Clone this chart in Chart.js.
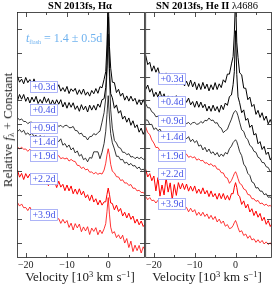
<!DOCTYPE html>
<html>
<head>
<meta charset="utf-8">
<script src="https://cdn.jsdelivr.net/npm/chart.js@4.4.1/dist/chart.umd.min.js"></script>
<style>
  body { margin: 0; background: #fff; }
  #wrap { position: relative; width: 274px; height: 288px; overflow: hidden; font-family: "Liberation Serif", serif; color: #000; }
  canvas { position: absolute; top: 0; }
  .txt { position: absolute; white-space: nowrap; transform: translateX(-50%); }
  .ttl { top: 0px; font-size: 10.5px; line-height: 12px; font-weight: bold; }
  .xlab { top: 270px; font-size: 13px; line-height: 14px; color: #222; }
  sup { font-size: 8.5px; vertical-align: 4px; line-height: 0; }
  sub { font-size: 8.5px; vertical-align: -2px; line-height: 0; }
</style>
</head>
<body>
<div id="wrap">
  <canvas id="ha" width="146" height="288" style="left:0px"></canvas>
  <canvas id="he" width="130" height="288" style="left:144px"></canvas>
  <div class="txt ttl" style="left:80px">SN 2013fs, Hα</div>
  <div class="txt ttl" style="left:207px">SN 2013fs, He II <span style="font-weight:normal">λ4686</span></div>
  <div class="txt xlab" style="left:80px">Velocity [10<sup>3</sup> km s<sup>−1</sup>]</div>
  <div class="txt xlab" style="left:207px">Velocity [10<sup>3</sup> km s<sup>−1</sup>]</div>
  <div style="position:absolute;left:8px;top:130px;transform:translate(-50%,-50%) rotate(-90deg);font-size:13px;color:#222;white-space:nowrap;">Relative <i>f</i><sub>λ</sub> + Constant</div>
  <div style="position:absolute;left:26px;top:31px;font-size:12px;line-height:14px;color:#6fb2ef;white-space:nowrap;"><i>t</i><sub style="font-size:6px">flash</sub> = 1.4 ± 0.5d</div>
</div>
<script>
// velocity grid, 10^3 km/s (finer around the narrow line)
var velocity = [-22, -21.5, -21, -20.5, -20, -19.5, -19, -18.5, -18, -17.5, -17, -16.5, -16, -15.5, -15, -14.5,
  -14, -13.5, -13, -12.5, -12, -11.5, -11, -10.5, -10, -9.5, -9, -8.5, -8, -7.5, -7, -6.5, -6, -5.5, -5, -4.5,
  -4, -3.5, -3, -2.5, -2, -1.5, -1, -0.6, -0.3, 0, 0.3, 0.6, 1, 1.5, 2, 2.5, 3, 3.5, 4, 4.5, 5, 5.5, 6, 6.5,
  7, 7.5, 8, 8.5, 9];

var epochs = ['+0.3d', '+0.4d', '+0.9d', '+1.4d', '+1.9d', '+2.2d', '+3.9d'];

// H-alpha, relative flux + constant
var ha03 = [70.2, 67.7, 69.0, 67.0, 69.7, 67.5, 68.8, 66.4, 69.1, 66.5, 67.5, 65.6, 67.9, 65.6, 67.9, 65.8, 66.8, 64.2, 66.6, 64.8,
  66.6, 63.9, 65.4, 63.7, 65.9, 62.9, 64.9, 63.8, 65.1, 62.5, 64.5, 62.6, 64.8, 62.2, 63.6, 61.8, 64.2, 62.8, 65.0, 63.0,
  65.8, 65.3, 68.9, 72.1, 83.4, 104, 82.7, 73.6, 67.7, 67.5, 63.3, 64.7, 61.8, 63.1, 60.1, 61.9, 59.7, 61.8, 59.7, 60.9,
  58.3, 60.3, 58.1, 60.3, 58.1];
var ha04 = [59.9, 62.5, 60.5, 62.5, 59.6, 61.4, 58.9, 61.4, 59.4, 61.7, 58.7, 60.4, 58.8, 61.5, 59.1, 60.8, 58.0, 60.2, 58.2, 60.3,
  58.4, 60.3, 57.2, 59.2, 56.7, 59.1, 57.1, 59.0, 56.2, 57.7, 55.4, 58.2, 56.0, 57.6, 55.1, 58.0, 55.9, 57.9, 55.9, 58.5,
  57.1, 60.3, 60.7, 65.5, 74.6, 104, 73.5, 62.9, 61.1, 56.7, 58.1, 54.6, 55.7, 52.1, 53.4, 50.8, 52.6, 49.5, 51.4, 48.5,
  49.7, 46.6, 48.3, 45.7, 47.7];
var ha09 = [52.7, 51.7, 52.2, 51.1, 51.1, 50.2, 50.8, 50.8, 49.7, 49.9, 50.5, 49.2, 50.0, 49.4, 50.2, 49.7, 49.1, 49.9, 49.3, 50.0,
  49.0, 49.5, 48.6, 49.4, 49.5, 48.5, 48.5, 49.0, 47.3, 47.2, 45.8, 46.2, 44.8, 44.7, 43.3, 44.7, 44.8, 46.0, 45.4, 46.4,
  47.0, 50.8, 54.8, 61, 72, 88, 70, 56, 48.3, 43.1, 42.0, 40.2, 39.8, 38.1, 38.1, 37.1, 37.5, 36.1, 36.3, 35.4,
  36.1, 35.4, 36.0, 35.1, 35.5];
var ha14 = [46.8, 47.7, 46.6, 47.4, 45.6, 46.3, 45.3, 46.2, 44.7, 45.3, 44.1, 45.2, 44.2, 44.9, 43.4, 44.3, 43.5, 44.4, 42.8, 43.5,
  42.6, 43.8, 41.1, 41.8, 40.2, 41.2, 39.1, 40.0, 37.8, 38.7, 36.5, 37.2, 35.0, 35.6, 34.1, 35.9, 35.6, 38.3, 38.3, 38.3,
  35.4, 38.1, 41.8, 47, 54, 62, 53, 46, 42.1, 39.5, 36.4, 36.4, 34.9, 35.1, 33.5, 33.9, 32.7, 33.4, 32.3, 32.5,
  31.2, 31.9, 30.6, 31.0, 29.9];
var ha19 = [40.4, 39.5, 40.2, 39.4, 39.5, 38.5, 39.4, 38.2, 38.3, 37.6, 38.3, 37.4, 37.7, 36.6, 37.4, 36.7, 37.2, 36.1, 36.6, 35.9,
  36.7, 35.4, 35.8, 35.3, 35.7, 34.4, 35.1, 34.4, 34.2, 32.6, 32.5, 31.3, 31.8, 30.7, 31.0, 29.7, 29.8, 29.0, 29.6, 28.8,
  29.3, 28.9, 30.6, 33.5, 37, 39.6, 37, 33, 30.1, 29.4, 27.8, 27.7, 26.2, 26.5, 25.1, 25.2, 24.1, 24.5, 22.9, 23.0,
  21.8, 22.1, 21.1, 21.2, 20.1];
var ha22 = [30.6, 27.6, 29.2, 26.6, 29.1, 27.3, 28.9, 26.0, 27.8, 25.2, 27.8, 25.4, 27.8, 24.8, 26.1, 24.0, 26.6, 24.3, 25.8, 23.2,
  25.9, 23.4, 24.6, 21.9, 24.3, 21.8, 23.9, 20.6, 22.6, 20.4, 22.7, 20.1, 21.7, 18.9, 20.2, 17.7, 20.1, 17.1, 18.5, 15.9,
  17.9, 15.8, 17.2, 17.2, 20.3, 23, 20.4, 16.7, 16.5, 13.8, 15.8, 13.1, 14.4, 11.2, 12.8, 10.4, 12.4, 9.8, 11.2, 8.2,
  9.9, 7.5, 9.1, 6.8, 7.9];
var ha39 = [16.9, 15.4, 16.3, 14.7, 14.8, 13.5, 15.0, 13.2, 13.6, 12.0, 13.2, 12.1, 12.4, 11.0, 12.3, 10.6, 11.0, 9.5, 10.9, 9.6,
  10.1, 8.1, 9.8, 8.2, 9.3, 6.4, 8.2, 5.3, 8.0, 6.2, 7.8, 4.6, 6.6, 4.9, 6.7, 3.4, 6.1, 4.7, 6.3, 3.3,
  5.3, 3.8, 5.8, 8, 13, 19, 12, 6.5, 3.9, 4.6, 2.1, 3.3, 1.5, 3.1, -0.2, 1.7, -2.1, 0.6, -3.8, -1.1,
  -3.4, -1.2, -4.4, -1.8, -3.3];

// He II 4686, relative flux + constant
var he03 = [79.0, 75.1, 76.1, 72.3, 74.6, 71.9, 73.8, 70.2, 71.4, 68.8, 71.6, 68.7, 71.3, 68.5, 69.9, 66.7, 69.7, 67.1, 69.5, 66.1,
  68.1, 65.9, 68.6, 65.7, 67.8, 64.5, 67.1, 64.6, 67.6, 64.9, 66.9, 64.0, 66.6, 64.5, 67.5, 64.6, 67.0, 65.4, 68.7, 67.6,
  71.1, 71.1, 75.4, 78.5, 88.0, 104, 84.6, 78.2, 71.6, 70.8, 65.2, 65.1, 60.3, 61.4, 57.4, 58.3, 54.1, 55.8, 52.8, 54.8,
  51.6, 53.4, 50.1, 51.9, 49.6];
var he04 = [64.6, 66.5, 63.5, 65.0, 61.6, 63.5, 61.4, 63.9, 61.0, 62.8, 59.9, 61.9, 59.2, 61.7, 60.0, 62.0, 59.0, 61.1, 58.6, 61.1,
  59.2, 61.0, 58.1, 59.5, 57.1, 59.7, 57.1, 59.3, 56.9, 58.4, 55.5, 57.6, 55.4, 58.0, 55.6, 57.4, 55.0, 58.0, 56.1, 58.9,
  57.9, 61.6, 62.3, 66.6, 72.1, 89.4, 71.0, 61.5, 59.0, 54.8, 56.0, 51.6, 52.4, 48.6, 49.6, 45.4, 46.0, 41.7, 42.6, 39.3,
  40.6, 37.2, 38.2, 34.9, 36.4];
var he09 = [58.6, 56.9, 56.9, 55.2, 54.6, 53.1, 53.3, 53.0, 51.7, 51.7, 52.1, 50.7, 51.3, 50.7, 51.4, 50.9, 50.2, 51.1, 50.4, 51.2,
  50.2, 50.7, 49.8, 50.6, 50.7, 49.9, 50.1, 51.1, 50.4, 51.6, 51.4, 52.6, 51.5, 51.7, 50.4, 50.6, 48.9, 48.3, 46.4, 47.2,
  47.8, 50.1, 52.1, 54.2, 55.2, 55.7, 55.0, 53.5, 50.8, 47.6, 46.9, 44.4, 43.4, 41.0, 40.3, 38.5, 38.1, 36.0, 35.5, 33.8,
  33.7, 32.0, 31.7, 30.0, 29.7];
var he14 = [51.8, 51.6, 49.8, 49.9, 47.7, 48.4, 47.2, 47.9, 46.2, 46.6, 45.3, 46.3, 45.2, 45.9, 44.4, 45.3, 44.5, 45.5, 43.9, 44.7,
  43.8, 44.7, 42.6, 43.6, 42.2, 43.0, 40.7, 41.2, 39.1, 40.2, 38.3, 39.5, 37.6, 38.3, 36.9, 38.0, 36.2, 37.4, 36.4, 38.0,
  37.4, 39.6, 40.7, 42.2, 42.8, 43.4, 42.6, 40.9, 38.4, 36.7, 33.1, 31.9, 29.2, 28.3, 25.6, 25.1, 23.0, 23.2, 21.7, 21.7,
  20.2, 20.6, 19.1, 19.3, 18.1];
var he19 = [48.8, 46.4, 45.6, 43.3, 42.0, 40.1, 40.2, 38.7, 38.6, 37.7, 38.3, 37.4, 37.7, 36.7, 37.6, 37.0, 37.5, 36.5, 37.0, 36.5,
  37.3, 36.0, 36.4, 35.8, 36.2, 34.8, 35.3, 34.5, 34.7, 33.5, 33.7, 32.7, 33.3, 32.2, 32.5, 31.0, 30.9, 29.5, 29.4, 27.6,
  27.2, 25.0, 26.2, 27.8, 29.1, 29.9, 28.7, 27.0, 25.0, 24.4, 22.6, 22.2, 20.3, 20.1, 18.5, 18.5, 17.4, 17.8, 16.4, 16.7,
  15.7, 16.2, 15.4, 15.7, 14.7];
var he22 = [30.9, 27.7, 29.1, 26.1, 28.1, 21.8, 27.4, 19.6, 24.3, 20.1, 27.4, 21.3, 25.2, 18.1, 24.5, 19.9, 25.3, 22.6, 25.0, 22.4,
  24.7, 21.7, 23.8, 21.7, 23.9, 20.8, 22.6, 20.6, 23.1, 20.5, 22.0, 19.4, 21.8, 19.3, 20.7, 18.3, 20.8, 18.5, 20.7, 18.1,
  19.9, 17.9, 20.7, 20.6, 23.4, 25.3, 23.3, 20.1, 19.5, 16.1, 17.6, 14.6, 16.2, 12.9, 14.3, 11.4, 13.3, 10.7, 12.3, 9.2,
  10.7, 7.7, 9.3, 6.8, 8.3];
var he39 = [19.4, 18.1, 19.0, 17.7, 17.9, 16.7, 17.8, 16.3, 16.7, 15.6, 16.5, 15.7, 16.1, 14.7, 15.9, 14.9, 15.2, 13.9, 15.3, 14.1,
  14.8, 13.0, 14.5, 12.9, 13.9, 11.5, 12.8, 11.3, 12.8, 11.0, 12.1, 10.1, 11.5, 9.7, 11.0, 8.7, 9.9, 8.1, 9.1, 6.9,
  7.6, 5.9, 6.2, 7.2, 8.4, 9.3, 8.0, 6.3, 4.5, 5.0, 3.0, 3.6, 1.8, 2.9, 1.1, 1.6, 0.1, 1.2, -0.1, 0.9,
  -0.6, 0.3, -0.8, -0.1, -1.4];

// where each epoch tag sits (flux level), one list per panel
var haTagLevels = [65.6, 56.1, 48.5, 42.6, 36.7, 26.8, 11.8];
var heTagLevels = [69.0, 59.3, 51.5, 44.5, 36.5, 28.9, 16.2];
var tagVelocity = -15.6;

var serif = '"Liberation Serif", serif';

// box, inward ticks and epoch tags
var framePlugin = {
  id: 'frame',
  afterDatasetsDraw: function(chart, args, opts) {
    var ctx = chart.ctx, a = chart.chartArea, xs = chart.scales.x, ys = chart.scales.y;
    ctx.save();
    ctx.strokeStyle = '#222';
    ctx.lineWidth = 0.8;
    ctx.strokeRect(a.left, a.top, a.right - a.left, a.bottom - a.top);
    ctx.beginPath();
    xs.ticks.forEach(function(t) {
      var px = Math.round(xs.getPixelForValue(t.value)) + 0.5;
      var len = t.value % 10 === 0 ? 4.5 : 2.5;
      ctx.moveTo(px, a.bottom); ctx.lineTo(px, a.bottom - len);
      ctx.moveTo(px, a.top); ctx.lineTo(px, a.top + len);
    });
    ys.ticks.forEach(function(t) {
      var py = Math.round(ys.getPixelForValue(t.value)) + 0.5;
      ctx.moveTo(a.left, py); ctx.lineTo(a.left + 4.5, py);
      ctx.moveTo(a.right, py); ctx.lineTo(a.right - 4.5, py);
    });
    ctx.stroke();

    ctx.font = '10px ' + serif;
    ctx.textAlign = 'center';
    ctx.textBaseline = 'middle';
    opts.levels.forEach(function(lv, i) {
      var cx = Math.round(xs.getPixelForValue(tagVelocity)), cy = Math.round(ys.getPixelForValue(lv));
      ctx.fillStyle = '#fff';
      ctx.fillRect(cx - 14, cy - 5.5, 28, 11);
      ctx.strokeStyle = '#9aa2f5';
      ctx.lineWidth = 0.8;
      ctx.strokeRect(cx - 14 + 0.5, cy - 5.5, 27, 11);
      ctx.fillStyle = '#4655e8';
      ctx.fillText(epochs[i], cx, cy + 0.5);
    });
    ctx.restore();
  }
};

function makePanel(id, series, levels, pad) {
  var datasets = series.map(function(vals, i) {
    var noisy = (i === 0 || i === 1 || i === 5);
    return {
      label: epochs[i],
      data: velocity.map(function(v, j) { return {x: v, y: vals[j]}; }),
      borderColor: i < 4 ? '#000000' : '#ff0000',
      borderWidth: noisy ? 1 : 0.8,
      pointRadius: 0,
      tension: 0,
      fill: false,
      clip: 0
    };
  });
  return new Chart(document.getElementById(id), {
    type: 'line',
    data: {datasets: datasets},
    options: {
      responsive: false,
      animation: false,
      events: [],
      layout: {padding: pad},
      plugins: {legend: {display: false}, tooltip: {enabled: false}, frame: {levels: levels}},
      scales: {
        x: {
          type: 'linear', min: -22, max: 8.8,
          grid: {display: false, drawTicks: false},
          border: {display: false},
          ticks: {
            stepSize: 5, includeBounds: false, autoSkip: false, maxRotation: 0, minRotation: 0,
            padding: 2, color: '#222', font: {family: serif, size: 10},
            callback: function(v) { return v % 10 === 0 ? (v < 0 ? '\u2212' + (-v) : '' + v) : ''; }
          },
          afterFit: function(s) { s.height = 30.5; }
        },
        y: {
          type: 'linear', min: -6.3, max: 97.1,
          grid: {display: false, drawTicks: false},
          border: {display: false},
          ticks: {stepSize: 10, includeBounds: false, display: false},
          afterFit: function(s) { s.width = 0; }
        }
      }
    },
    plugins: [framePlugin]
  });
}

makePanel('ha', [ha03, ha04, ha09, ha14, ha19, ha22, ha39], haTagLevels, {left: 17.5, right: 1.5, top: 12.5, bottom: 0});
makePanel('he', [he03, he04, he09, he14, he19, he22, he39], heTagLevels, {left: 0.5, right: 2.5, top: 12.5, bottom: 0});
</script>
</body>
</html>
